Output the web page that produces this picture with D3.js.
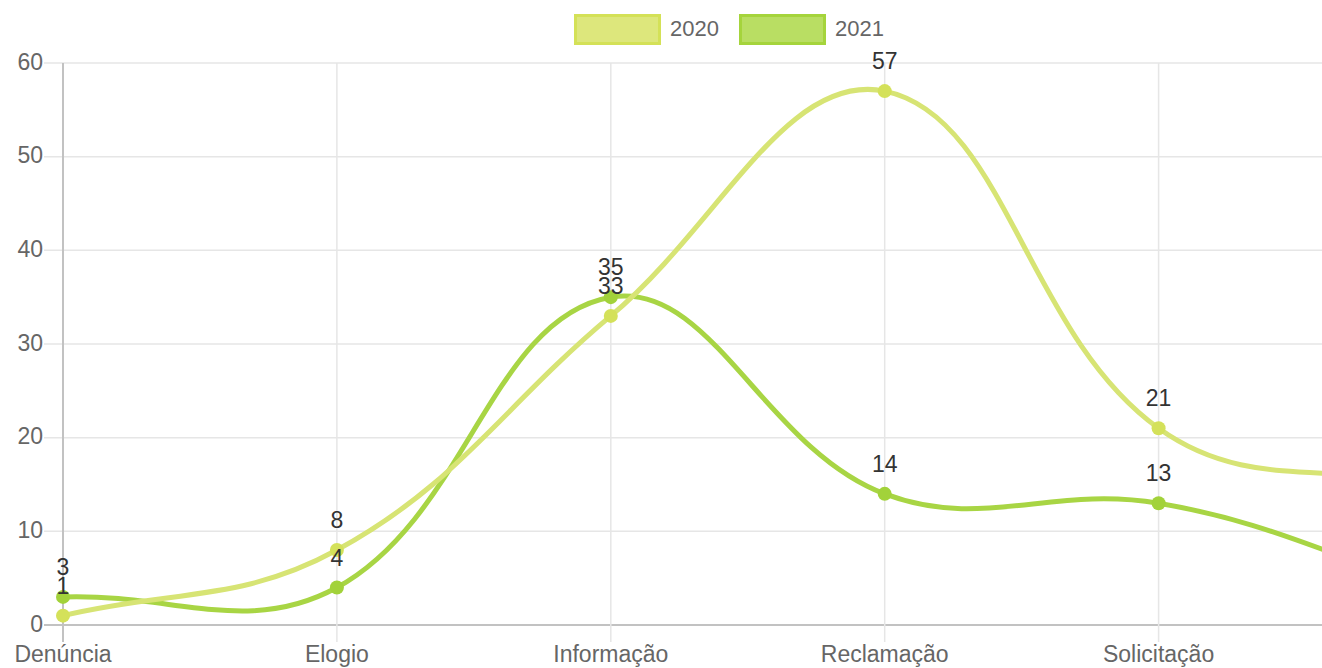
<!DOCTYPE html>
<html>
<head>
<meta charset="utf-8">
<script src="https://cdn.jsdelivr.net/npm/d3@7"></script>
<style>
  html, body { margin: 0; padding: 0; background: #fff; overflow: hidden; }
  svg { display: block; }
  text { font-family: "Liberation Sans", Arial, Helvetica, sans-serif; }
</style>
</head>
<body>
<svg id="chart" width="1322" height="668"></svg>
<script>
const categories = ["Denúncia", "Elogio", "Informação", "Reclamação", "Solicitação", "Sugestão"];
const values2020 = [1, 8, 33, 57, 21, 15];
const values2021 = [3, 4, 35, 14, 13, 4];
const yTicks = [0, 10, 20, 30, 40, 50, 60];
const seriesNames = ["2020", "2021"];

(function () {
const W = 1322, H = 668;
const plotLeft = 63, plotTop = 63, plotBottom = 625;
const step = 273.9;
const plotRight = plotLeft + step * (categories.length - 1);

const svg = d3.select("#chart");

const x = d3.scalePoint().domain(categories).range([plotLeft, plotRight]);
const y = d3.scaleLinear().domain([0, 60]).range([plotBottom, plotTop]);
const visible = px => px < W;

const series = [
  { name: seriesNames[0], values: values2020, stroke: "#d7e474", point: "#d4e15a", legendFill: "#dde77c", legendStroke: "#d4e157" },
  { name: seriesNames[1], values: values2021, stroke: "#a8d544", point: "#a2d23a", legendFill: "#b9de63", legendStroke: "#a5d43c" }
];

// grid
const grid = svg.append("g");
grid.selectAll("line.h").data(yTicks).join("line")
  .attr("x1", plotLeft - 19).attr("x2", W)
  .attr("y1", d => y(d)).attr("y2", d => y(d))
  .attr("stroke", d => d === 0 ? "#c2c2c2" : "#e6e6e6")
  .attr("stroke-width", d => d === 0 ? 2 : 1.5);
grid.selectAll("line.v").data(categories.filter(c => visible(x(c)))).join("line")
  .attr("x1", d => x(d)).attr("x2", d => x(d))
  .attr("y1", plotTop).attr("y2", plotBottom + 17)
  .attr("stroke", (d, i) => i === 0 ? "#c2c2c2" : "#e6e6e6")
  .attr("stroke-width", (d, i) => i === 0 ? 2 : 1.5);

// y tick labels
svg.append("g").selectAll("text").data(yTicks).join("text")
  .attr("x", 43).attr("y", d => y(d) + 6.5)
  .attr("text-anchor", "end")
  .attr("font-size", 23).attr("fill", "#666")
  .text(d => d);

// x tick labels (only those inside the visible canvas)
svg.append("g").selectAll("text").data(categories.filter(c => visible(x(c)))).join("text")
  .attr("x", d => x(d)).attr("y", 662)
  .attr("text-anchor", "middle")
  .attr("font-size", 23).attr("fill", "#666")
  .text(d => d);

// Chart.js-like spline (tension 0.4)
function chartCurve(tension) {
  return function(context) {
    let pts = [];
    return {
      areaStart() {}, areaEnd() {},
      lineStart() { pts = []; },
      point(px, py) { pts.push([+px, +py]); },
      lineEnd() {
        const n = pts.length;
        if (!n) return;
        const cps = pts.map((p, i) => {
          const prev = pts[i - 1] || p, next = pts[i + 1] || p;
          const d01 = Math.hypot(p[0] - prev[0], p[1] - prev[1]);
          const d12 = Math.hypot(next[0] - p[0], next[1] - p[1]);
          let s01 = d01 / (d01 + d12), s12 = d12 / (d01 + d12);
          if (isNaN(s01)) s01 = 0; if (isNaN(s12)) s12 = 0;
          const fa = tension * s01, fb = tension * s12;
          return {
            prev: [p[0] - fa * (next[0] - prev[0]), p[1] - fa * (next[1] - prev[1])],
            next: [p[0] + fb * (next[0] - prev[0]), p[1] + fb * (next[1] - prev[1])]
          };
        });
        context.moveTo(pts[0][0], pts[0][1]);
        for (let i = 1; i < n; i++) {
          context.bezierCurveTo(cps[i - 1].next[0], cps[i - 1].next[1], cps[i].prev[0], cps[i].prev[1], pts[i][0], pts[i][1]);
        }
      }
    };
  };
}

const line = d3.line()
  .x((d, i) => x(categories[i]))
  .y(d => y(d))
  .curve(chartCurve(0.4));

// draw 2021 first so 2020 on top (Chart.js order)
const drawOrder = [series[1], series[0]];
drawOrder.forEach(s => {
  svg.append("path").datum(s.values)
    .attr("d", line)
    .attr("fill", "none")
    .attr("stroke", s.stroke)
    .attr("stroke-width", 5);
});
drawOrder.forEach(s => {
  const pts = s.values.map((v, i) => ({ v, c: categories[i] })).filter(d => visible(x(d.c)));
  svg.append("g").selectAll("circle").data(pts).join("circle")
    .attr("cx", d => x(d.c))
    .attr("cy", d => y(d.v))
    .attr("r", 7)
    .attr("fill", s.point);
});
// data labels
drawOrder.forEach(s => {
  const pts = s.values.map((v, i) => ({ v, c: categories[i] })).filter(d => visible(x(d.c)));
  svg.append("g").selectAll("text").data(pts).join("text")
    .attr("x", d => x(d.c))
    .attr("y", d => y(d.v) - 22)
    .attr("text-anchor", "middle")
    .attr("font-size", 23).attr("fill", "#333")
    .text(d => d.v);
});

// legend
const legendItems = [
  { s: series[0], bx: 574, tx: 670 },
  { s: series[1], bx: 739, tx: 835 }
];
const lg = svg.append("g");
legendItems.forEach(it => {
  lg.append("rect")
    .attr("x", it.bx + 1.5).attr("y", 15.5)
    .attr("width", 84).attr("height", 28)
    .attr("fill", it.s.legendFill)
    .attr("stroke", it.s.legendStroke)
    .attr("stroke-width", 3);
  lg.append("text")
    .attr("x", it.tx).attr("y", 36)
    .attr("font-size", 22).attr("fill", "#666")
    .text(it.s.name);
});
})();
</script>
</body>
</html>
